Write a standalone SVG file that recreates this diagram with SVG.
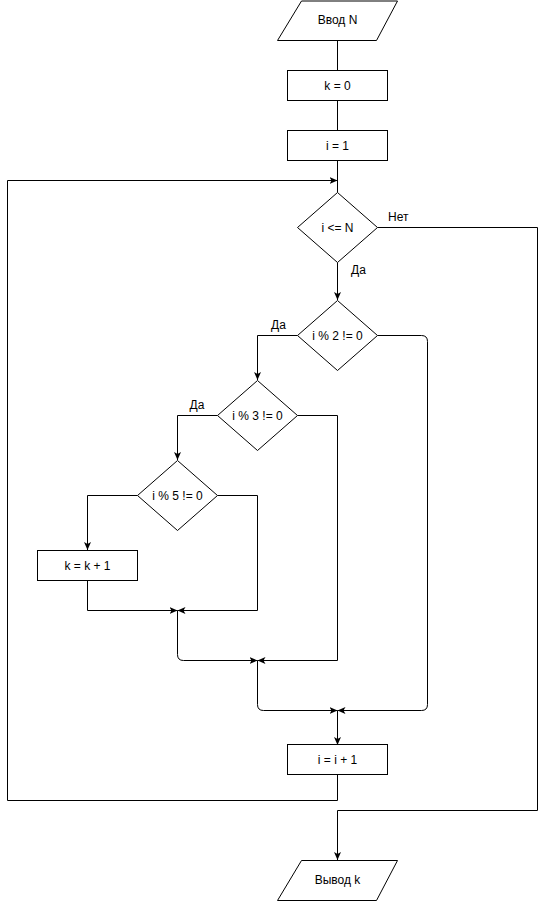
<svg xmlns="http://www.w3.org/2000/svg" width="546" height="901" viewBox="0 0 546 901">
<style>
.s{fill:#fff;stroke:#000;stroke-width:1}
.c{fill:none;stroke:#000;stroke-width:1}
.t{font-family:"Liberation Sans",Arial,sans-serif;font-size:12px;fill:#000;text-anchor:middle}
.l{font-family:"Liberation Sans",Arial,sans-serif;font-size:12px;fill:#000}
</style>
<defs>
<marker id="a" markerUnits="userSpaceOnUse" markerWidth="10" markerHeight="10" refX="8" refY="4" orient="auto">
<path d="M0,0.5 L8,4 L0,7.5 L2,4 Z" fill="#000"/>
</marker>
</defs>
<rect width="546" height="901" fill="#fff"/>
<g id="connectors">
<path class="c" d="M337.5,40.5 V70"/>
<path class="c" d="M337.5,100 V130"/>
<path class="c" d="M337.5,160 V192.5"/>
<path class="c" d="M337.5,262.5 V300" marker-end="url(#a)"/>
<path class="c" d="M297.5,335.5 H257.5 V380" marker-end="url(#a)"/>
<path class="c" d="M217.5,415.5 H177.5 V460" marker-end="url(#a)"/>
<path class="c" d="M137.5,495.5 H87.5 V550" marker-end="url(#a)"/>
<path class="c" d="M87.5,580 V610.5 H177.5" marker-end="url(#a)"/>
<path class="c" d="M217.5,495.5 H257.5 V610.5 H177.5" marker-end="url(#a)"/>
<path class="c" d="M177.5,610.5 V654.5 Q177.5,660.5 183.5,660.5 H257.5" marker-end="url(#a)"/>
<path class="c" d="M297.5,415.5 H337.5 V660.5 H257.5" marker-end="url(#a)"/>
<path class="c" d="M257.5,660.5 V704.5 Q257.5,710.5 263.5,710.5 H337.5" marker-end="url(#a)"/>
<path class="c" d="M377.5,335.5 H421.5 Q427.5,335.5 427.5,341.5 V704.5 Q427.5,710.5 421.5,710.5 H337.5" marker-end="url(#a)"/>
<path class="c" d="M337.5,710.5 V745" marker-end="url(#a)"/>
<path class="c" d="M337.5,775 V800.5 H7.5 V180.5 H337.5" marker-end="url(#a)"/>
<path class="c" d="M377.5,227.5 H537.5 V810.5 H337.5 V860" marker-end="url(#a)"/>
<text class="l" x="351" y="273.5">Да</text>
<text class="l" x="388" y="221">Нет</text>
<text class="l" x="271" y="328.5">Да</text>
<text class="l" x="189.5" y="408.5">Да</text>
</g>
<g id="input">
<polygon class="s" points="301.5,1 397.5,1 376.5,40.5 277.5,40.5"/>
<text class="t" x="337.5" y="24">Ввод N</text>
</g>
<g id="k0">
<rect class="s" x="287.5" y="70.5" width="100" height="30"/>
<text class="t" x="337.5" y="89.5">k = 0</text>
</g>
<g id="i1">
<rect class="s" x="287.5" y="130.5" width="100" height="30"/>
<text class="t" x="337.5" y="149.5">i = 1</text>
</g>
<g id="d1">
<polygon class="s" points="337.5,192.5 377.5,227.5 337.5,262.5 297.5,227.5"/>
<text class="t" x="337.5" y="231.5">i &lt;= N</text>
</g>
<g id="d2">
<polygon class="s" points="337.5,300.5 377.5,335.5 337.5,370.5 297.5,335.5"/>
<text class="t" x="337.5" y="339.5">i % 2 != 0</text>
</g>
<g id="d3">
<polygon class="s" points="257.5,380.5 297.5,415.5 257.5,450.5 217.5,415.5"/>
<text class="t" x="257.5" y="419.5">i % 3 != 0</text>
</g>
<g id="d5">
<polygon class="s" points="177.5,460.5 217.5,495.5 177.5,530.5 137.5,495.5"/>
<text class="t" x="177.5" y="499.5">i % 5 != 0</text>
</g>
<g id="kinc">
<rect class="s" x="37.5" y="550.5" width="100" height="30"/>
<text class="t" x="87.5" y="569.5">k = k + 1</text>
</g>
<g id="iinc">
<rect class="s" x="287.5" y="744.5" width="100" height="30"/>
<text class="t" x="337.5" y="763.5">i = i + 1</text>
</g>
<g id="output">
<polygon class="s" points="301.5,860.5 397.5,860.5 376.5,900.5 277.5,900.5"/>
<text class="t" x="337.5" y="884">Вывод k</text>
</g>
</svg>
